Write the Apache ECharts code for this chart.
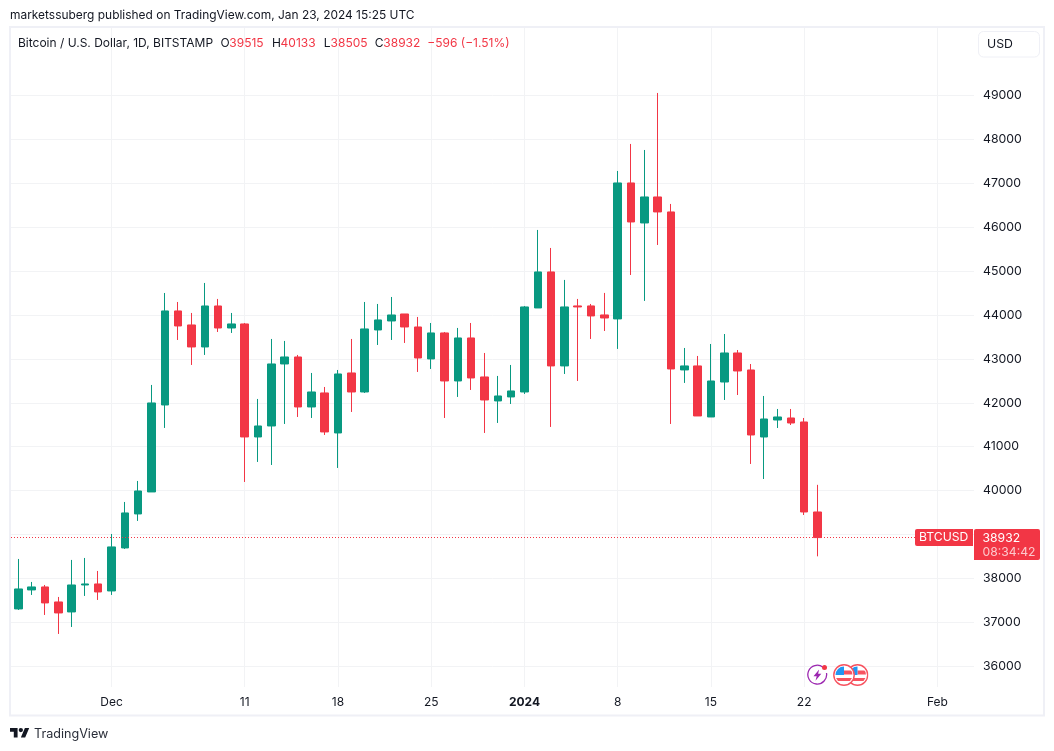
<!DOCTYPE html>
<html><head><meta charset="utf-8">
<style>html,body{margin:0;padding:0;background:#fff}#c{width:1054px;height:751px}</style>
<script src="https://cdn.jsdelivr.net/npm/echarts@6/dist/echarts.min.js"></script>
</head><body><div id="c"></div>
<script>
// one candle per day, day 0 = 24 Nov 2023
const opens = [37307,37740,37808,37466,37239,37853,37876,37717,38696,39470,39971,41951,44092,43773,43272,44205,43704,43796,41223,41473,42885,43044,41906,42225,41314,42680,42247,43659,43864,44023,43727,42999,43591,42498,43477,42589,42043,42134,42247,44160,44980,42840,44206,44206,44001,43910,47006,46095,46687,46346,42749,42840,41678,42474,43135,42748,41222,41609,41655,41564,39515];
const closes = [37762,37808,37444,37216,37853,37876,37694,38719,39493,39993,41997,44092,43750,43272,44205,43704,43796,41223,41473,42885,43044,41906,42247,41337,42657,42247,43682,43887,44000,43727,43021,43591,42498,43477,42566,42065,42156,42270,44183,44980,42840,44183,44183,43978,43932,47006,46118,46687,46346,42771,42840,41701,42497,43135,42725,41268,41632,41678,41541,39515,38932];
const lows = [37284,37626,37170,36738,36897,37603,37512,37626,38673,39311,39971,41428,43431,42862,43090,43613,43591,40198,40654,40585,41519,41678,41655,41268,40517,41792,42225,43317,43431,43363,42703,42771,41655,42134,42293,41314,41542,41974,42202,44160,41451,42657,42498,43454,43636,43227,44911,44320,45594,41519,42453,41701,41678,42065,42178,40608,40266,41427,41495,39446,38505];
const highs = [38445,37922,37853,37580,38423,38468,38172,39014,39743,40221,42407,44501,44296,44046,44729,44365,44046,43818,42088,43454,43409,43090,42680,42361,42748,43454,44296,44251,44410,44023,43955,43818,43613,43705,43818,43135,42612,42862,44205,45936,45526,44798,44365,44251,44502,47279,47894,47757,49055,46528,43249,43067,43340,43567,43203,42884,42156,41860,41860,41655,40133];
const xTickDays = [7,17,24,31,38,45,52,59,69];
const xTickLabels = ['Dec','11','18','25','2024','8','15','22','Feb'];
const yTicks = [36000,37000,38000,39000,40000,41000,42000,43000,44000,45000,46000,47000,48000,49000];
const lastPrice = 38932;
const GREEN='#089981', RED='#F23645', INK='#131722', GRID='#f2f3f5', FRAME='#eff0f6';
const FONT='Inter, "Noto Sans", sans-serif';

const candleData = opens.map((o,i)=>[i,o,closes[i],lows[i],highs[i]]);
const chart = echarts.init(document.getElementById('c'),null,{renderer:'canvas'});

function txt(x,y,s,fill,size,extra){return Object.assign({type:'text',x,y,z:50,silent:true,style:Object.assign({text:s,fill:fill||INK,font:(size||12)+'px '+FONT,textVerticalAlign:'middle'},extra||{})});}

const flagSvg = 'data:image/svg+xml;utf8,'+encodeURIComponent(
'<svg xmlns="http://www.w3.org/2000/svg" width="44" height="44" viewBox="0 0 22 22"><defs><clipPath id="a"><circle cx="11" cy="11" r="8.5"/></clipPath></defs><circle cx="11" cy="11" r="10.2" fill="#fff" stroke="#f7525f" stroke-width="1.4"/><g clip-path="url(#a)"><rect width="22" height="22" fill="#fff"/><rect x="11" y="6.5" width="10" height="4" fill="#f7525f"/><rect y="14" width="22" height="3" fill="#f7525f"/><rect y="2" width="11" height="9" fill="#2196f3"/></g></svg>');
const boltSvg = 'data:image/svg+xml;utf8,'+encodeURIComponent(
'<svg xmlns="http://www.w3.org/2000/svg" width="44" height="44" viewBox="0 0 22 22"><path d="M16.5 3.2A9.4 9.4 0 1 0 20 9" fill="none" stroke="#9c27b0" stroke-width="1.3"/><path d="M12.6 5.5 7 12.3h3.2l-1.2 4.5 5.8-7h-3.2z" fill="#9c27b0"/><circle cx="18" cy="3.6" r="2.5" fill="#f23645"/></svg>');
const logoSvg = 'data:image/svg+xml;utf8,'+encodeURIComponent(
'<svg xmlns="http://www.w3.org/2000/svg" width="72" height="40" viewBox="0 0 36 20"><path d="M14 18H7V7H0V0h14v18zM28 18h-8l7.5-18h8L28 18z" fill="#131722"/><circle cx="20" cy="4" r="4" fill="#131722"/></svg>');

chart.setOption({
  animation:false,
  backgroundColor:'#fff',
  grid:{left:11,top:28,width:963,height:659,containLabel:false},
  xAxis:{type:'value',min:-0.548,max:71.75,
    axisLine:{show:false},
    axisTick:{show:false,customValues:xTickDays},
    splitLine:{show:true,lineStyle:{color:GRID,width:1}},
    axisLabel:{customValues:xTickDays,margin:9,color:INK,fontFamily:'Inter',fontSize:12,
      formatter:v=>{const s=xTickLabels[xTickDays.indexOf(v)];return s==='2024'?'{b|'+s+'}':s;},
      rich:{b:{fontWeight:'bold',fontFamily:'Inter',fontSize:12,color:INK}}}
  },
  yAxis:{type:'value',position:'right',min:35530,max:50534,
    axisLine:{show:false},
    axisTick:{show:false,customValues:yTicks},
    splitLine:{show:true,lineStyle:{color:GRID,width:1}},
    axisLabel:{customValues:yTicks.filter(v=>v!==39000),margin:9,color:INK,fontFamily:'Inter',fontSize:12.3,
      padding:[3,0,0,0],formatter:v=>String(v)}
  },
  series:[{type:'candlestick',data:candleData,barWidth:8,
    itemStyle:{color:GREEN,color0:RED,borderColor:GREEN,borderColor0:RED,borderColorDoji:GREEN,borderWidth:1},
    emphasis:{disabled:true},
    markLine:{silent:true,symbol:'none',animation:false,label:{show:false},
      lineStyle:{color:RED,type:[1,2],width:1},data:[{yAxis:lastPrice}]}
  }]
});

const tagY = Math.round(chart.convertToPixel({yAxisIndex:0},lastPrice));
chart.setOption({graphic:{elements:[
  {type:'rect',z:40,silent:true,shape:{x:10,y:27,width:1034,height:688.5},style:{fill:'none',stroke:FRAME,lineWidth:2}},
  txt(10,15.5,'marketssuberg published on TradingView.com, Jan 23, 2024 15:25 UTC',INK,11.95),
  txt(18,43,'Bitcoin / U.S. Dollar, 1D, BITSTAMP',INK,12),
  txt(220.4,43,'O',INK,12),txt(229.3,43,'39515',RED,12),
  txt(272,43,'H',INK,12),txt(280.6,43,'40133',RED,12),
  txt(323.7,43,'L',INK,12),txt(330.6,43,'38505',RED,12),
  txt(374.7,43,'C',INK,12),txt(383.3,43,'38932',RED,12),
  txt(427.3,43,'\u2212596 (\u22121.51%)',RED,12),
  {type:'rect',z:45,silent:true,shape:{x:978.5,y:31.5,width:61,height:25.5,r:5},style:{fill:'#fff',stroke:FRAME,lineWidth:1}},
  txt(987,44,'USD',INK,12.3),
  {type:'rect',z:45,silent:true,shape:{x:915,y:tagY-9,width:58,height:17,r:[2,0,0,2]},style:{fill:RED}},
  txt(919,tagY-0.5,'BTCUSD','#fff',12.2),
  {type:'rect',z:45,silent:true,shape:{x:974,y:tagY-9,width:66,height:31,r:[2,2,2,0]},style:{fill:RED}},
  txt(982.5,tagY,'38932','#fff',12.2),
  txt(982.5,tagY+14,'08:34:42','#fcc8cc',12.2),
  {type:'image',z:46,silent:true,style:{image:boltSvg,x:806.5,y:664,width:22,height:22}},
  {type:'image',z:46,silent:true,style:{image:flagSvg,x:846.5,y:664,width:22,height:22}},
  {type:'image',z:47,silent:true,style:{image:flagSvg,x:833,y:664,width:22,height:22}},
  {type:'image',z:50,silent:true,style:{image:logoSvg,x:10,y:728,width:19.5,height:10.5}},
  txt(34,734,'TradingView','#2a2e39',12.6)
]}});
</script></body></html>
